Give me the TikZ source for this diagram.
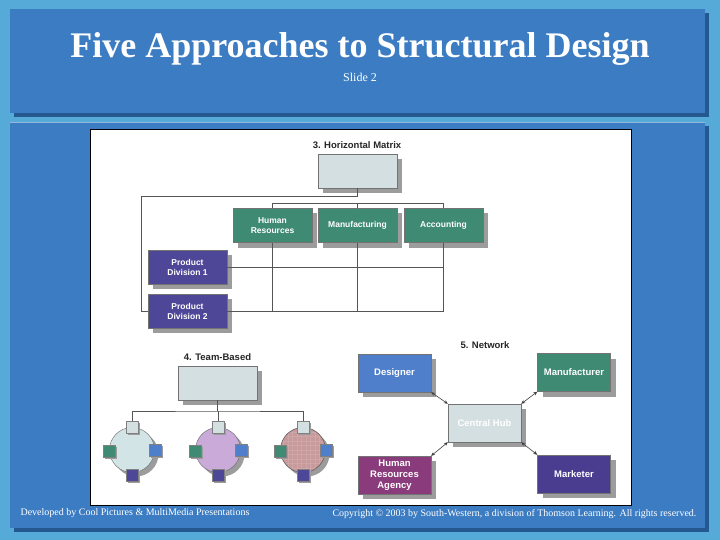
\documentclass[tikz,border=0pt]{standalone}
\usepackage{fontspec}
\setmainfont{Liberation Serif}
\setsansfont{Liberation Sans}
\usetikzlibrary{shadows,arrows.meta}

\definecolor{bgblue}{HTML}{55AAD8}
\definecolor{panelblue}{HTML}{3C7CC2}
\definecolor{paneldark}{HTML}{25588E}
\definecolor{boxgray}{HTML}{D4DFE2}
\definecolor{teamgreen}{HTML}{3F8A72}
\definecolor{divpurple}{HTML}{4E4697}
\definecolor{desblue}{HTML}{4F7FCB}
\definecolor{hrmaroon}{HTML}{8A3B7C}
\definecolor{mktpurple}{HTML}{4A3D90}
\definecolor{shadowgray}{HTML}{9C9C9C}
\definecolor{linegray}{HTML}{555555}
\definecolor{circblue}{HTML}{D3E4E7}
\definecolor{circlilac}{HTML}{C9AAD8}
\definecolor{circrose}{HTML}{C89A9C}

\tikzset{
  unitbox/.style={draw=black!55, line width=0.4pt, minimum width=79pt, minimum height=34pt,
    align=center, text=white, inner sep=1pt,
    font=\sffamily\bfseries\fontsize{8.5}{10}\selectfont,
    drop shadow={shadow xshift=5pt, shadow yshift=-5pt, fill=shadowgray, opacity=1}},
  netbox/.style={unitbox, minimum width=73pt, minimum height=38pt,
    font=\sffamily\bfseries\fontsize{9.5}{11}\selectfont},
  tag/.style={font=\sffamily\bfseries\fontsize{9.5}{11}\selectfont, text=black!85},
  link/.style={draw=linegray, line width=0.6pt},
  teamring/.style={circle, draw=black!60, line width=0.4pt, minimum size=45pt, inner sep=0pt,
    drop shadow={shadow xshift=4pt, shadow yshift=-4pt, fill=shadowgray, opacity=1}},
  member/.style={draw=black!50, line width=0.3pt, minimum size=12pt, inner sep=0pt,
    drop shadow={shadow xshift=2pt, shadow yshift=-2pt, fill=shadowgray, opacity=1}},
  arr/.style={{Stealth[length=4pt,width=3.5pt]}-{Stealth[length=4pt,width=3.5pt]}, draw=black!75, line width=0.6pt},
}

\begin{document}
\begin{tikzpicture}[x=1pt,y=-1pt]
\useasboundingbox (0,0) rectangle (720,540);
% slide background and panels
\fill[bgblue] (0,0) rectangle (720,540);
\fill[paneldark] (14,13) rectangle (709,117);
\fill[panelblue] (10,9) rectangle (705,113);
\fill[paneldark] (14,126) rectangle (709,532);
\fill[panelblue] (10,122) rectangle (705,528);
\draw[white!45!panelblue, line width=1pt] (10,122.5) -- (705,122.5);
\draw[fill=white, draw=black, line width=1pt] (90,130) rectangle (631,505);

\node[text=white, font=\bfseries\fontsize{36}{40}\selectfont] (title) at (360,49) {Five Approaches to Structural Design};
\node[text=white, font=\fontsize{12}{14}\selectfont] (sub) at (360,77) {Slide 2};
\node[anchor=west, text=white, font=\fontsize{10}{11}\selectfont] (dev) at (17,513) {Developed by Cool Pictures \& MultiMedia Presentations};
\node[anchor=east, text=white, font=\fontsize{10}{11}\selectfont] (copy) at (700,514) {Copyright \textcopyright\ 2003 by South-Western, a division of Thomson Learning. All rights reserved.};

% 3. horizontal matrix
\node[tag] (hmtag) at (357,145) {3. Horizontal Matrix};
\node[unitbox, fill=boxgray] (hm) at (357.5,171) {};
\node[unitbox, fill=teamgreen] (hr) at (272.5,225.5) {Human\\Resources};
\node[unitbox, fill=teamgreen] (mf) at (357.5,225.5) {Manufacturing};
\node[unitbox, fill=teamgreen] (acc) at (443.5,225.5) {Accounting};
\node[unitbox, fill=divpurple] (pd1) at (187.5,267) {Product\\Division 1};
\node[unitbox, fill=divpurple] (pd2) at (187.5,311) {Product\\Division 2};

\draw[link] (hm.south) |- (141,196) |- (pd2.west);
\draw[link] (hr.north) |- (acc.north |- 0,203) -- (acc.north);
\draw[link] (mf.north) -- (mf.north |- 0,203);
\draw[link] (hr.south) -- (hr.south |- pd2.east);
\draw[link] (mf.south) -- (mf.south |- pd2.east);
\draw[link] (acc.south) -- (acc.south |- pd2.east);
\draw[link] (pd1.east) -- (acc.south |- pd1.east);
\draw[link] (pd2.east) -- (acc.south |- pd2.east);

% 4. team-based
\node[tag] (tbtag) at (217.5,357) {4. Team-Based};
\node[unitbox, fill=boxgray] (tb) at (217.5,383) {};
\node[teamring, fill=circblue] (t1) at (132,450) {};
\node[teamring, fill=circlilac] (t2) at (218,450) {};
\node[teamring, fill=circrose] (t3) at (303,450) {};
\begin{scope}
\clip (t3.center) circle[radius=22];
\draw[circrose!88!white, line width=0.25pt] (278,425) grid[step=4.5pt] (328,475);
\end{scope}
\draw[black!60, line width=0.4pt] (t3.center) circle[radius=22.5];

\coordinate (tbar) at (217.5,411);
\node[member, fill=boxgray] (t1n) at (132,427) {};
\node[member, fill=teamgreen] (t1w) at (109,451) {};
\node[member, fill=desblue] (t1e) at (155,450) {};
\node[member, fill=divpurple] (t1s) at (132,475) {};
\node[member, fill=boxgray] (t2n) at (218,427) {};
\node[member, fill=teamgreen] (t2w) at (195,451) {};
\node[member, fill=desblue] (t2e) at (241,450) {};
\node[member, fill=divpurple] (t2s) at (218,475) {};
\node[member, fill=boxgray] (t3n) at (303,427) {};
\node[member, fill=teamgreen] (t3w) at (280,451) {};
\node[member, fill=desblue] (t3e) at (326,450) {};
\node[member, fill=divpurple] (t3s) at (303,475) {};

\draw[link] (tb.south) -- (tbar);
\draw[link] (t1n.north) |- (tbar) -| (t3n.north);
\draw[link] (tbar) -| (t2n.north);

% 5. network
\node[tag] (nettag) at (485,345) {5. Network};
\node[netbox, fill=desblue] (des) at (394.5,373) {Designer};
\node[netbox, fill=teamgreen] (man) at (574,372.5) {Manufacturer};
\node[netbox, fill=boxgray] (hub) at (484.5,423) {Central Hub};
\node[netbox, fill=hrmaroon] (hra) at (394.5,475) {Human\\Resources\\Agency};
\node[netbox, fill=mktpurple] (mkt) at (574,474) {Marketer};

\draw[arr] (des.south east) -- (hub.north west);
\draw[arr] (man.south west) -- (hub.north east);
\draw[arr] (hra.north east) -- (hub.south west);
\draw[arr] (mkt.north west) -- (hub.south east);

\end{tikzpicture}
\end{document}
